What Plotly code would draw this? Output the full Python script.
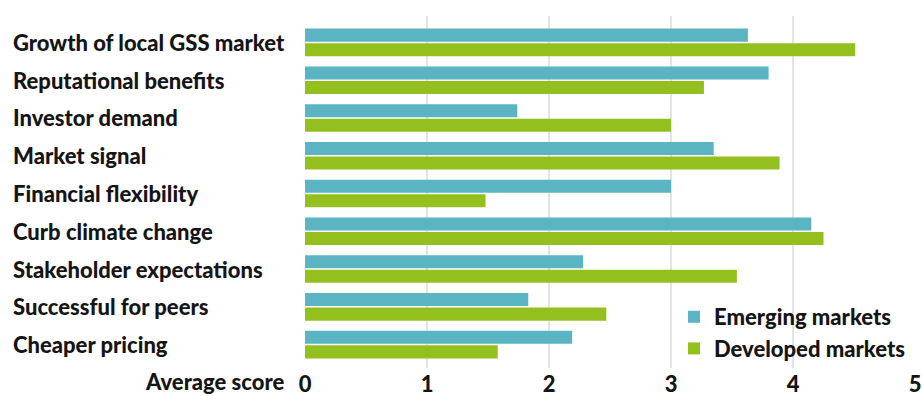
import plotly.graph_objects as go

categories = ["Growth of local GSS market", "Reputational benefits", "Investor demand",
              "Market signal", "Financial flexibility", "Curb climate change",
              "Stakeholder expectations", "Successful for peers", "Cheaper pricing"]
emerging = [3.63, 3.80, 1.74, 3.35, 3.00, 4.15, 2.28, 1.83, 2.19]
developed = [4.51, 3.27, 3.00, 3.89, 1.48, 4.25, 3.54, 2.47, 1.58]
x_ticks = [0, 1, 2, 3, 4, 5]

TEAL = "#5ab4c2"
GREEN = "#93c01f"
FONT = "Lato"
TXT = "#151515"

fig = go.Figure()
fig.add_trace(go.Bar(y=categories, x=emerging, orientation="h", name="Emerging markets",
                     marker=dict(color=TEAL, line=dict(width=0))))
fig.add_trace(go.Bar(y=categories, x=developed, orientation="h", name="Developed markets",
                     marker=dict(color=GREEN, line=dict(width=0))))

L, R, T, B = 305, 7, 16, 28
W, H = 922, 396
pw = W - L - R
ph = H - T - B

for c in categories:
    fig.add_annotation(x=(11 - L) / pw, xref="paper", y=c, yref="y", text=c,
                       showarrow=False, xanchor="left", yanchor="middle",
                       font=dict(family=FONT, size=22, color=TXT, weight=900))

fig.add_annotation(x=(287 - L) / pw, xref="paper", y=(ph + T - 381) / ph, yref="paper",
                   text="Average score", showarrow=False, xanchor="right", yanchor="middle",
                   font=dict(family=FONT, size=22, color=TXT, weight=900))

fig.update_layout(
    width=W, height=H,
    margin=dict(l=L, r=R, t=T, b=B, pad=0, autoexpand=False),
    paper_bgcolor="white", plot_bgcolor="white",
    barmode="group", bargap=0.23, bargroupgap=0.1,
    showlegend=True,
    legend=dict(x=(674 - L) / pw, y=(ph + T - 296) / ph, xanchor="left", yanchor="top",
                bgcolor="rgba(0,0,0,0)", traceorder="normal",
                font=dict(family=FONT, size=22, color=TXT, weight=900),
                itemwidth=30, tracegroupgap=0),
    xaxis=dict(range=[0, 5], tickvals=x_ticks, ticktext=[str(v) for v in x_ticks],
               showgrid=True, gridcolor="#e4e4e4", gridwidth=1.5, zeroline=False,
               showline=False, ticks="", ticklabelstandoff=1, automargin=False,
               tickfont=dict(family=FONT, size=22, color=TXT, weight=900)),
    yaxis=dict(range=[8.62, -0.7], showticklabels=False, showgrid=False, zeroline=False,
               showline=False, ticks="", automargin=False),
)

fig.write_html("out.html")
